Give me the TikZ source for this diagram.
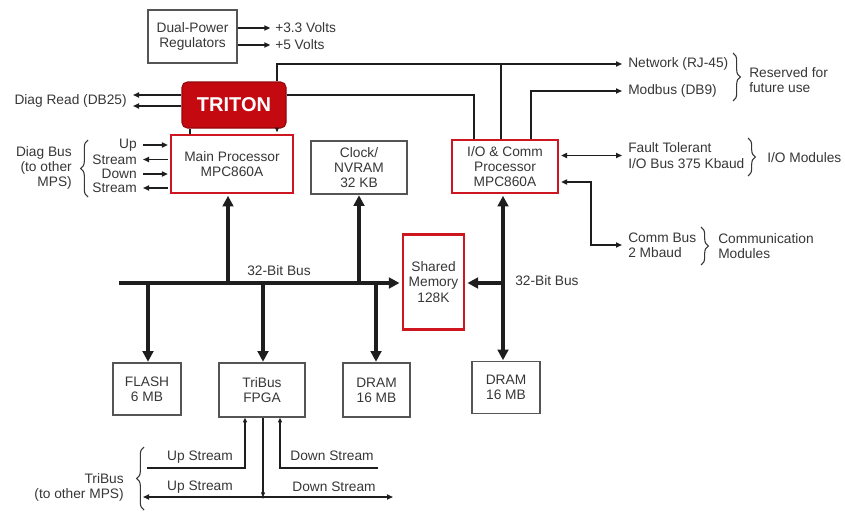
\documentclass[tikz,border=0pt]{standalone}
\usepackage{fontspec}
\setmainfont{Liberation Sans}
\usetikzlibrary{arrows.meta,decorations.pathreplacing,calc}
\definecolor{tred}{RGB}{196,10,16}
\definecolor{bred}{RGB}{206,22,32}
\definecolor{txt}{RGB}{55,55,55}
\definecolor{ln}{RGB}{30,30,30}
\definecolor{gboxc}{RGB}{85,85,85}
\begin{document}
\begin{tikzpicture}[x=0.75pt,y=-0.75pt,
  every node/.style={font=\fontsize{10.3}{11.4}\selectfont, text=txt, inner sep=0pt},
  gbox/.style={draw=gboxc, line width=0.9pt, fill=white, align=center},
  rbox/.style={draw=bred, line width=2.2pt, fill=white, align=center},
  tline/.style={draw=ln, line width=1.1pt},
  tarr/.style={tline, -{Triangle[length=4.5pt,width=3.8pt]}},
  sarr/.style={tline, -{Triangle[length=3.5pt,width=3pt]}},
  tdarr/.style={tline, {Triangle[length=4.5pt,width=3.8pt]}-{Triangle[length=4.5pt,width=3.8pt]}},
  bus/.style={draw=ln, line width=3pt},
  barr/.style={bus, -{Triangle[length=8pt,width=8pt]}},
  bdarr/.style={bus, {Triangle[length=8pt,width=8pt]}-{Triangle[length=8pt,width=8pt]}},
  brc/.style={draw=txt, line width=0.8pt, decorate, decoration={brace, amplitude=5.5pt}},
  lbl/.style={align=left}
]
\useasboundingbox[fill=white] (0,0) rectangle (845,514);

% boxes
\node[gbox, minimum width=89*0.75pt, minimum height=53*0.75pt] (dual) at (192.5,36.5) {Dual-Power\\Regulators};
\node[draw=tred!75!black, fill=tred, line width=0.8pt, rounded corners=4pt, minimum width=104*0.75pt, minimum height=46*0.75pt, text=white, font=\fontsize{15}{17}\selectfont\bfseries] (triton) at (234,105) {TRITON};
\node[rbox, minimum width=122*0.75pt, minimum height=58*0.75pt] (main) at (232,164) {Main Processor\\MPC860A};
\node[gbox, minimum width=96*0.75pt, minimum height=53*0.75pt] (clock) at (359,167.5) {Clock/\\NVRAM\\32 KB};
\node[rbox, minimum width=106*0.75pt, minimum height=53*0.75pt] (io) at (505,166.5) {I/O \& Comm\\Processor\\MPC860A};
\node[rbox, minimum width=61*0.75pt, minimum height=95*0.75pt] (shared) at (433.5,282) {Shared\\Memory\\128K};
\node[gbox, minimum width=68*0.75pt, minimum height=52*0.75pt] (flash) at (147,389) {FLASH\\6 MB};
\node[gbox, minimum width=86*0.75pt, minimum height=54*0.75pt] (tribus) at (262,390) {TriBus\\FPGA};
\node[gbox, minimum width=67*0.75pt, minimum height=54*0.75pt] (dram1) at (376.5,390) {DRAM\\16 MB};
\node[gbox, minimum width=68*0.75pt, minimum height=52*0.75pt] (dram2) at (506,387.5) {DRAM\\16 MB};

% power outputs
\node[anchor=west] (v33) at (275,28) {+3.3 Volts};
\node[anchor=west] (v5) at (275,45) {+5 Volts};
\draw[tarr, shorten >=3.5pt] (dual.east |- v33.west) -- (v33.west);
\draw[tarr, shorten >=3.5pt] (dual.east |- v5.west) -- (v5.west);

% network / modbus
\node[anchor=west] (net) at (628,64) {Network (RJ-45)};
\node[anchor=west] (mod) at (628,91) {Modbus (DB9)};
\coordinate (c1) at (277,64);
\coordinate (c2) at (501,64);
\coordinate (c3) at (474,95);
\coordinate (c4) at (531,91);
\draw[tarr, shorten >=4.5pt] (triton.north -| c1) -- (c1) -- (net.west);
\draw[tline] (c2) -- (io.north -| c2);
\draw[tline] (triton.east |- c3) -- (c3) -- (io.north -| c3);
\draw[tarr, shorten >=4.5pt] (io.north -| c4) -- (c4) -- (mod.west);
\draw[brc] (733,53) -- (733,101);
\node[lbl, anchor=west] (res) at (749,80) {Reserved for\\future use};

% I/O bus
\node[lbl, anchor=west] (ft) at (628,155.5) {Fault Tolerant\\I/O Bus 375 Kbaud};
\draw[tdarr, shorten >=4.5pt, shorten <=1.2pt] (io.east |- ft.west) -- (ft.west);
\draw[brc] (748,138) -- (748,176);
\node[anchor=west] (iom) at (767,158) {I/O Modules};

% comm bus
\node[lbl, anchor=west] (cb) at (628,245) {Comm Bus\\2 Mbaud};
\coordinate (c5) at (591,182);
\draw[tdarr, shorten >=4.5pt, shorten <=1.2pt] (io.east |- c5) -- (c5) |- (cb.west);
\draw[brc] (701,227) -- (701,265);
\node[lbl, anchor=west] (cmm) at (718,246) {Communication\\Modules};

% diag read
\node[anchor=east] (dr) at (127,101) {Diag Read (DB25)};
\coordinate (dr1) at (133,95);
\coordinate (dr2) at (133,106);
\draw[tarr] (triton.west |- dr1) -- (dr1);
\draw[tarr] (triton.west |- dr2) -- (dr2);

% triton to main
\coordinate (t1) at (190,0);
\draw[tline] (triton.south -| t1) -- (main.north -| t1);
\draw[sarr, shorten >=1pt] (triton.south -| c1) -- (main.north -| c1);

% diag bus
\node[anchor=east] (up) at (137,145) {Up};
\node[anchor=east] (st1) at (137,159.5) {Stream};
\node[anchor=east] (dn) at (137,174) {Down};
\node[anchor=east] (st2) at (137,188) {Stream};
\draw[tarr, shorten >=1.2pt] ([xshift=4.5pt]up.east) -- (main.west |- up.east);
\draw[tarr, shorten <=1.2pt] (main.west |- st1.east) -- ([xshift=4.5pt]st1.east);
\draw[tarr, shorten >=1.2pt] ([xshift=4.5pt]dn.east) -- (main.west |- dn.east);
\draw[tarr, shorten <=1.2pt] (main.west |- st2.east) -- ([xshift=4.5pt]st2.east);
\draw[brc] (88,197) -- (88,140);
\node[anchor=east, align=right] (dbus) at (72,168) {Diag Bus\\(to other\\MPS)};

% 32-bit bus (left)
\coordinate (bl) at (119,283);
\coordinate (b1) at (228,283);
\coordinate (b2) at (359,283);
\coordinate (b3) at (148,283);
\coordinate (b4) at (263,283);
\coordinate (b5) at (376,283);
\draw[barr, shorten >=1.5pt] (bl) -- (shared.west |- bl);
\draw[barr, shorten >=1pt] (b1) -- (main.south -| b1);
\draw[barr, shorten >=0.5pt] (b2) -- (clock.south -| b2);
\draw[barr, shorten >=0.5pt] (b3) -- (flash.north -| b3);
\draw[barr, shorten >=0.5pt] (b4) -- (tribus.north -| b4);
\draw[barr, shorten >=0.5pt] (b5) -- (dram1.north -| b5);
\node (bus1) at (279,271) {32-Bit Bus};

% 32-bit bus (right)
\coordinate (rb) at (503,283);
\draw[bdarr, shorten <=1pt, shorten >=0.5pt] (io.south -| rb) -- (dram2.north -| rb);
\draw[barr, shorten >=1.5pt] (rb) -- (shared.east |- rb);
\node[anchor=west] (bus2) at (515,281) {32-Bit Bus};

% TriBus lines
\coordinate (tb) at (263,497);
\coordinate (tl) at (143,497);
\coordinate (tr) at (393,497);
\coordinate (u1) at (147,468);
\coordinate (u2) at (245,468);
\coordinate (d1) at (280,468);
\coordinate (d2) at (378,468);
\draw[tdarr] (tl) -- (tr);
\draw[sarr] (tribus.south -| tb) -- (tb);
\fill[ln] (tb) circle (1.6);
\draw[sarr] (u1) -- (u2) -- (tribus.south -| u2);
\draw[sarr] (d2) -- (d1) -- (tribus.south -| d1);
\node (us1) at (200,457) {Up Stream};
\node (ds1) at (332,456) {Down Stream};
\node (us2) at (200,487) {Up Stream};
\node (ds2) at (334,487) {Down Stream};
\draw[brc] (144,510) -- (144,447);
\node[anchor=east, align=right] (tbl) at (124,487.5) {TriBus\\(to other MPS)};
\end{tikzpicture}
\end{document}
